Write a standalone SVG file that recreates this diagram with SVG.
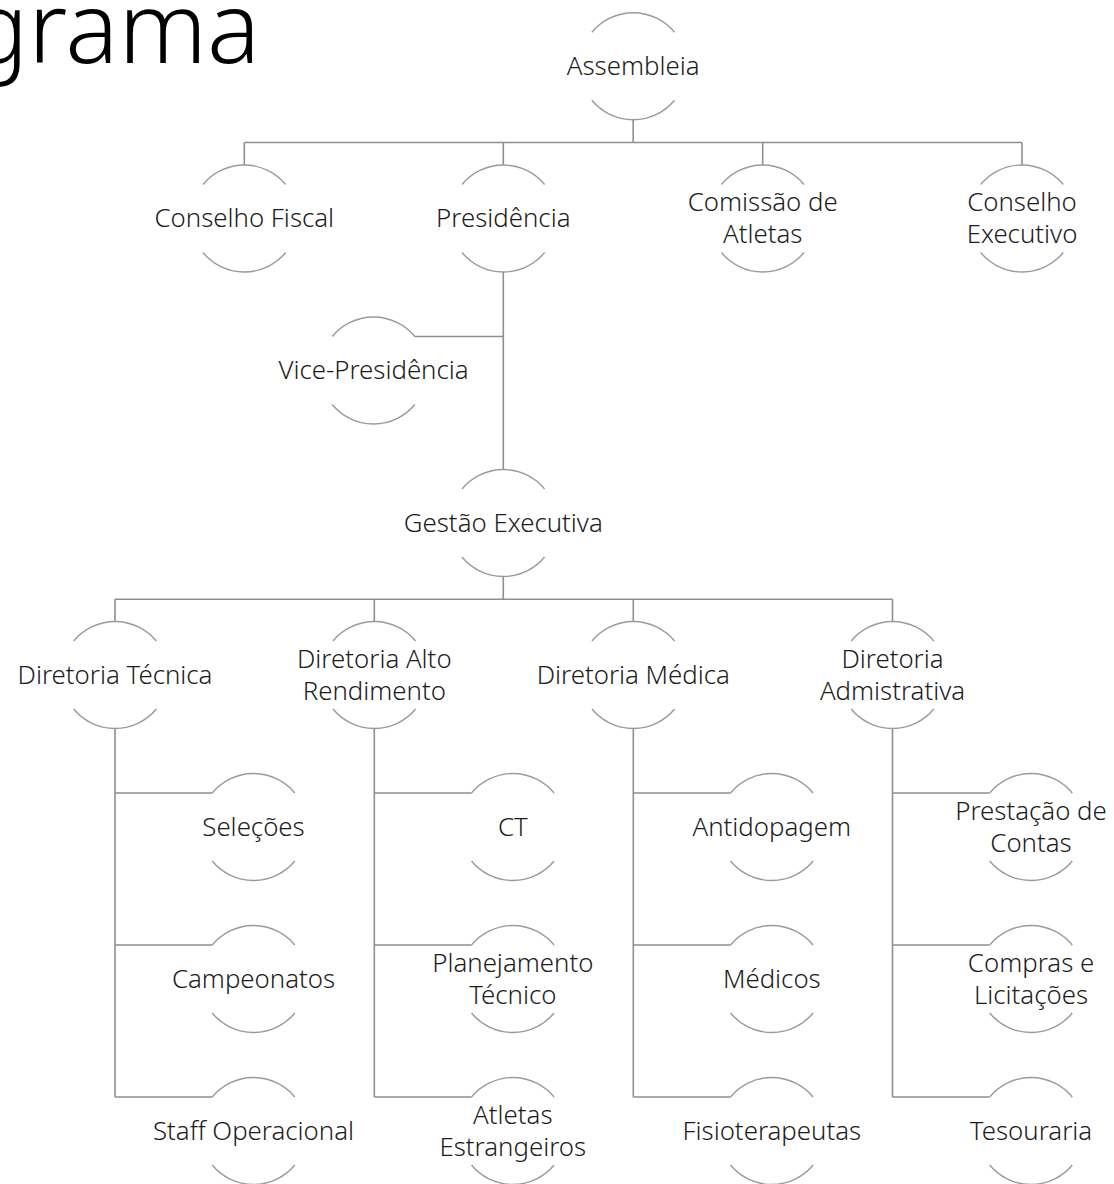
<svg xmlns="http://www.w3.org/2000/svg" width="1114" height="1184" viewBox="0 0 1114 1184">
<defs>
<style>
.bg{fill:#ffffff}
.t{font-family:"Noto Sans","Open Sans","Liberation Sans",sans-serif;font-weight:300;font-size:25.8px;fill:#1c1c1c;text-anchor:middle}
.title{font-family:"Noto Sans","Open Sans","Liberation Sans",sans-serif;font-weight:300;font-size:99px;fill:#000;text-anchor:end}
.arc{fill:none;stroke:#9a9a9a;stroke-width:1.4}
.ln{fill:none;stroke:#8f8f8f;stroke-width:1.6}
</style>
</defs>
<rect class="bg" x="0" y="0" width="1114" height="1184"/>
<text class="title" x="260" y="63">grama</text>

<g id="connectors">
<path class="ln" d="M633.2 119.8V142.5M244.3 142.5H1022M244.3 142.5V165M503.3 142.5V165M762.7 142.5V165M1022 142.5V165"/>
<path class="ln" d="M503.3 272V469.5M503.3 336.5H414.8"/>
<path class="ln" d="M503.3 576.5V599.3M115 599.3H892.5M115 599.3V621.5M374.3 599.3V621.5M633.3 599.3V621.5M892.5 599.3V621.5"/>
<path class="ln" d="M115 728.5V1097M115 793H212.2M115 945H212.2M115 1097H212.2"/>
<path class="ln" d="M374.3 728.5V1097M374.3 793H471.5M374.3 945H471.5M374.3 1097H471.5"/>
<path class="ln" d="M633.3 728.5V1097M633.3 793H730.5M633.3 945H730.5M633.3 1097H730.5"/>
<path class="ln" d="M892.5 728.5V1097M892.5 793H989.7M892.5 945H989.7M892.5 1097H989.7"/>
</g>

<g id="assembleia" transform="translate(633.2 66.3)"><path class="arc" d="M-41.3 -34A53.5 53.5 0 0 1 41.3 -34M-41.3 34A53.5 53.5 0 0 0 41.3 34"/><text class="t" y="8.5">Assembleia</text></g>
<g id="conselho-fiscal" transform="translate(244.3 218.5)"><path class="arc" d="M-41.3 -34A53.5 53.5 0 0 1 41.3 -34M-41.3 34A53.5 53.5 0 0 0 41.3 34"/><text class="t" y="8.5">Conselho Fiscal</text></g>
<g id="presidencia" transform="translate(503.3 218.5)"><path class="arc" d="M-41.3 -34A53.5 53.5 0 0 1 41.3 -34M-41.3 34A53.5 53.5 0 0 0 41.3 34"/><text class="t" y="8.5">Presidência</text></g>
<g id="comissao-atletas" transform="translate(762.7 218.5)"><path class="arc" d="M-41.3 -34A53.5 53.5 0 0 1 41.3 -34M-41.3 34A53.5 53.5 0 0 0 41.3 34"/><text class="t" y="-7.5">Comissão de</text><text class="t" y="24.5">Atletas</text></g>
<g id="conselho-executivo" transform="translate(1022 218.5)"><path class="arc" d="M-41.3 -34A53.5 53.5 0 0 1 41.3 -34M-41.3 34A53.5 53.5 0 0 0 41.3 34"/><text class="t" y="-7.5">Conselho</text><text class="t" y="24.5">Executivo</text></g>
<g id="vice-presidencia" transform="translate(373.5 370.5)"><path class="arc" d="M-41.3 -34A53.5 53.5 0 0 1 41.3 -34M-41.3 34A53.5 53.5 0 0 0 41.3 34"/><text class="t" y="8.5">Vice-Presidência</text></g>
<g id="gestao-executiva" transform="translate(503.3 523)"><path class="arc" d="M-41.3 -34A53.5 53.5 0 0 1 41.3 -34M-41.3 34A53.5 53.5 0 0 0 41.3 34"/><text class="t" y="8.5">Gestão Executiva</text></g>

<g id="diretoria-tecnica" transform="translate(115 675)"><path class="arc" d="M-41.3 -34A53.5 53.5 0 0 1 41.3 -34M-41.3 34A53.5 53.5 0 0 0 41.3 34"/><text class="t" y="8.5">Diretoria Técnica</text></g>
<g id="diretoria-alto-rendimento" transform="translate(374.3 675)"><path class="arc" d="M-41.3 -34A53.5 53.5 0 0 1 41.3 -34M-41.3 34A53.5 53.5 0 0 0 41.3 34"/><text class="t" y="-7.5">Diretoria Alto</text><text class="t" y="24.5">Rendimento</text></g>
<g id="diretoria-medica" transform="translate(633.3 675)"><path class="arc" d="M-41.3 -34A53.5 53.5 0 0 1 41.3 -34M-41.3 34A53.5 53.5 0 0 0 41.3 34"/><text class="t" y="8.5">Diretoria Médica</text></g>
<g id="diretoria-admistrativa" transform="translate(892.5 675)"><path class="arc" d="M-41.3 -34A53.5 53.5 0 0 1 41.3 -34M-41.3 34A53.5 53.5 0 0 0 41.3 34"/><text class="t" y="-7.5">Diretoria</text><text class="t" y="24.5">Admistrativa</text></g>

<g id="selecoes" transform="translate(253.5 827)"><path class="arc" d="M-41.3 -34A53.5 53.5 0 0 1 41.3 -34M-41.3 34A53.5 53.5 0 0 0 41.3 34"/><text class="t" y="8.5">Seleções</text></g>
<g id="campeonatos" transform="translate(253.5 979)"><path class="arc" d="M-41.3 -34A53.5 53.5 0 0 1 41.3 -34M-41.3 34A53.5 53.5 0 0 0 41.3 34"/><text class="t" y="8.5">Campeonatos</text></g>
<g id="staff-operacional" transform="translate(253.5 1131)"><path class="arc" d="M-41.3 -34A53.5 53.5 0 0 1 41.3 -34M-41.3 34A53.5 53.5 0 0 0 41.3 34"/><text class="t" y="8.5">Staff Operacional</text></g>

<g id="ct" transform="translate(512.8 827)"><path class="arc" d="M-41.3 -34A53.5 53.5 0 0 1 41.3 -34M-41.3 34A53.5 53.5 0 0 0 41.3 34"/><text class="t" y="8.5">CT</text></g>
<g id="planejamento-tecnico" transform="translate(512.8 979)"><path class="arc" d="M-41.3 -34A53.5 53.5 0 0 1 41.3 -34M-41.3 34A53.5 53.5 0 0 0 41.3 34"/><text class="t" y="-7.5">Planejamento</text><text class="t" y="24.5">Técnico</text></g>
<g id="atletas-estrangeiros" transform="translate(512.8 1131)"><path class="arc" d="M-41.3 -34A53.5 53.5 0 0 1 41.3 -34M-41.3 34A53.5 53.5 0 0 0 41.3 34"/><text class="t" y="-7.5">Atletas</text><text class="t" y="24.5">Estrangeiros</text></g>

<g id="antidopagem" transform="translate(771.8 827)"><path class="arc" d="M-41.3 -34A53.5 53.5 0 0 1 41.3 -34M-41.3 34A53.5 53.5 0 0 0 41.3 34"/><text class="t" y="8.5">Antidopagem</text></g>
<g id="medicos" transform="translate(771.8 979)"><path class="arc" d="M-41.3 -34A53.5 53.5 0 0 1 41.3 -34M-41.3 34A53.5 53.5 0 0 0 41.3 34"/><text class="t" y="8.5">Médicos</text></g>
<g id="fisioterapeutas" transform="translate(771.8 1131)"><path class="arc" d="M-41.3 -34A53.5 53.5 0 0 1 41.3 -34M-41.3 34A53.5 53.5 0 0 0 41.3 34"/><text class="t" y="8.5">Fisioterapeutas</text></g>

<g id="prestacao-contas" transform="translate(1031 827)"><path class="arc" d="M-41.3 -34A53.5 53.5 0 0 1 41.3 -34M-41.3 34A53.5 53.5 0 0 0 41.3 34"/><text class="t" y="-7.5">Prestação de</text><text class="t" y="24.5">Contas</text></g>
<g id="compras-licitacoes" transform="translate(1031 979)"><path class="arc" d="M-41.3 -34A53.5 53.5 0 0 1 41.3 -34M-41.3 34A53.5 53.5 0 0 0 41.3 34"/><text class="t" y="-7.5">Compras e</text><text class="t" y="24.5">Licitações</text></g>
<g id="tesouraria" transform="translate(1031 1131)"><path class="arc" d="M-41.3 -34A53.5 53.5 0 0 1 41.3 -34M-41.3 34A53.5 53.5 0 0 0 41.3 34"/><text class="t" y="8.5">Tesouraria</text></g>
</svg>
